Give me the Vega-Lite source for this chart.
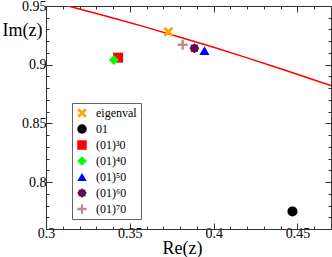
{
  "$schema": "https://vega.github.io/schema/vega-lite/v6.json",
  "width": 285,
  "height": 223,
  "autosize": {"type": "none"},
  "padding": {"left": 46, "top": 6, "right": 1, "bottom": 28},
  "background": "white",
  "config": {
    "view": {"stroke": "#333", "strokeWidth": 1},
    "font": "Liberation Serif"
  },
  "datasets": {
    "curve": [
      {"re": 0.30, "im": 0.9548},
      {"re": 0.32, "im": 0.9475},
      {"re": 0.34, "im": 0.9398},
      {"re": 0.36, "im": 0.9318},
      {"re": 0.38, "im": 0.9234},
      {"re": 0.40, "im": 0.9148},
      {"re": 0.42, "im": 0.9058},
      {"re": 0.44, "im": 0.8965},
      {"re": 0.46, "im": 0.8870},
      {"re": 0.47, "im": 0.8822}
    ],
    "points": [
      {"series": "eigenval", "re": 0.373, "im": 0.928},
      {"series": "01", "re": 0.447, "im": 0.775},
      {"series": "(01)³0", "re": 0.343, "im": 0.906},
      {"series": "(01)⁴0", "re": 0.3405, "im": 0.904},
      {"series": "(01)⁵0", "re": 0.3945, "im": 0.912},
      {"series": "(01)⁶0", "re": 0.3885, "im": 0.914},
      {"series": "(01)⁷0", "re": 0.3815, "im": 0.917}
    ]
  },
  "layer": [
    {
      "data": {"name": "curve"},
      "mark": {"type": "line", "color": "#ff0000", "strokeWidth": 1.5, "clip": true},
      "encoding": {
        "x": {
          "field": "re", "type": "quantitative",
          "scale": {"domain": [0.3, 0.47], "nice": false, "zero": false},
          "axis": {
            "orient": "bottom",
            "values": [0.3,0.31,0.32,0.33,0.34,0.35,0.36,0.37,0.38,0.39,0.4,0.41,0.42,0.43,0.44,0.45,0.46,0.47],
            "format": ".2~f",
            "labelExpr": "abs(datum.value*20 - round(datum.value*20)) < 0.0001 ? datum.label : ''",
            "tickSize": {"condition": {"test": "abs(datum.value*20 - round(datum.value*20)) < 0.0001", "value": -6}, "value": -3},
            "tickColor": "#333", "domainColor": "#333", "grid": false,
            "labelFontSize": 14, "labelColor": "black", "labelPadding": 3, "labelFlush": false, "labelOverlap": false,
            "title": "Re(z)", "titleFontSize": 18, "titleFontWeight": "normal", "titleColor": "black",
            "titleX": 136, "titleY": 24, "titleBaseline": "alphabetic"
          }
        },
        "y": {
          "field": "im", "type": "quantitative",
          "scale": {"domain": [0.76, 0.95], "nice": false, "zero": false},
          "axis": {
            "orient": "left",
            "values": [0.76,0.77,0.78,0.79,0.8,0.81,0.82,0.83,0.84,0.85,0.86,0.87,0.88,0.89,0.9,0.91,0.92,0.93,0.94,0.95],
            "format": ".2~f",
            "labelExpr": "abs(datum.value*20 - round(datum.value*20)) < 0.0001 ? datum.label : ''",
            "tickSize": {"condition": {"test": "abs(datum.value*20 - round(datum.value*20)) < 0.0001", "value": -6}, "value": -3},
            "tickColor": "#333", "domainColor": "#333", "grid": false,
            "labelFontSize": 14, "labelColor": "black", "labelPadding": 6, "labelFlush": false, "labelOverlap": false,
            "title": "Im(z)", "titleFontSize": 18, "titleFontWeight": "normal", "titleColor": "black",
            "titleAngle": 0, "titleX": -44, "titleY": 24, "titleAlign": "left", "titleBaseline": "middle"
          }
        }
      }
    },
    {
      "data": {"name": "points"},
      "mark": {"type": "point", "filled": true, "opacity": 1, "size": 100},
      "encoding": {
        "x": {
          "field": "re", "type": "quantitative",
          "axis": {
            "orient": "top",
            "values": [0.3,0.31,0.32,0.33,0.34,0.35,0.36,0.37,0.38,0.39,0.4,0.41,0.42,0.43,0.44,0.45,0.46,0.47],
            "labels": false, "title": null, "grid": false,
            "tickSize": {"condition": {"test": "abs(datum.value*20 - round(datum.value*20)) < 0.0001", "value": -6}, "value": -3},
            "tickColor": "#333", "domainColor": "#333"
          }
        },
        "y": {
          "field": "im", "type": "quantitative",
          "axis": {
            "orient": "right",
            "values": [0.76,0.77,0.78,0.79,0.8,0.81,0.82,0.83,0.84,0.85,0.86,0.87,0.88,0.89,0.9,0.91,0.92,0.93,0.94,0.95],
            "labels": false, "title": null, "grid": false,
            "tickSize": {"condition": {"test": "abs(datum.value*20 - round(datum.value*20)) < 0.0001", "value": -6}, "value": -3},
            "tickColor": "#333", "domainColor": "#333"
          }
        },
        "color": {
          "field": "series", "type": "nominal",
          "scale": {
            "domain": ["eigenval", "01", "(01)³0", "(01)⁴0", "(01)⁵0", "(01)⁶0", "(01)⁷0"],
            "range": ["#ffa500", "#000000", "#ff0000", "#00ff00", "#0000ff", "#67064f", "#bc8f8f"]
          },
          "legend": {
            "title": null, "orient": "none", "legendX": 26, "legendY": 97,
            "labelFont": "Liberation Serif", "labelFontSize": 12, "labelColor": "black",
            "strokeColor": "#666", "fillColor": "white", "padding": 4,
            "rowPadding": 4, "symbolSize": 90, "labelOffset": 8, "symbolOpacity": 1
          }
        },
        "shape": {
          "field": "series", "type": "nominal",
          "scale": {
            "domain": ["eigenval", "01", "(01)³0", "(01)⁴0", "(01)⁵0", "(01)⁶0", "(01)⁷0"],
            "range": [
              "M-1,-0.6L-0.6,-1L0,-0.4L0.6,-1L1,-0.6L0.4,0L1,0.6L0.6,1L0,0.4L-0.6,1L-1,0.6L-0.4,0Z",
              "circle",
              "square",
              "diamond",
              "triangle-up",
              "M1,0L0.757,0.314L0.707,0.707L0.314,0.757L0,1L-0.314,0.757L-0.707,0.707L-0.757,0.314L-1,0L-0.757,-0.314L-0.707,-0.707L-0.314,-0.757L0,-1L0.314,-0.757L0.707,-0.707L0.757,-0.314Z",
              "M-1,-0.25L-0.25,-0.25L-0.25,-1L0.25,-1L0.25,-0.25L1,-0.25L1,0.25L0.25,0.25L0.25,1L-0.25,1L-0.25,0.25L-1,0.25Z"
            ]
          },
          "legend": null
        }
      }
    }
  ],
  "resolve": {"axis": {"x": "independent", "y": "independent"}}
}
